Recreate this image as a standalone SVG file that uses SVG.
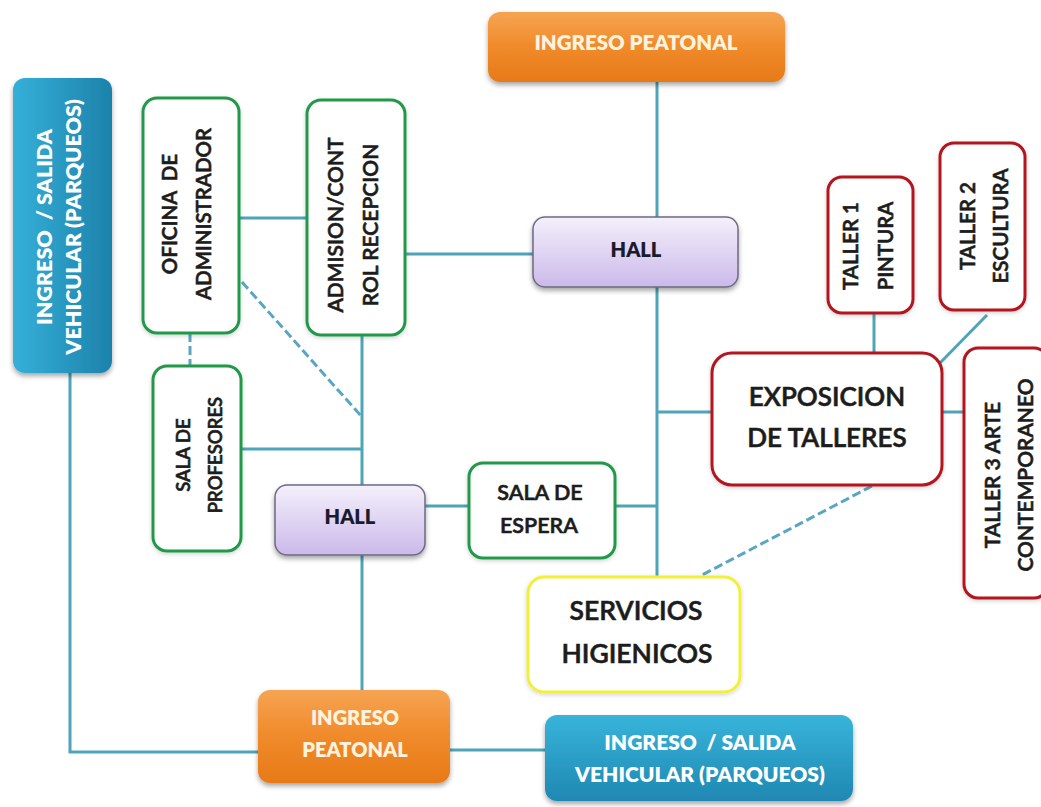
<svg xmlns="http://www.w3.org/2000/svg" width="1041" height="807" viewBox="0 0 1041 807">
  <defs>
    <linearGradient id="gOrange" x1="0" y1="0" x2="0" y2="1">
      <stop offset="0" stop-color="#f6a452"/>
      <stop offset="0.5" stop-color="#f08a2a"/>
      <stop offset="1" stop-color="#e77a18"/>
    </linearGradient>
    <linearGradient id="gBlueV" x1="0" y1="0" x2="1" y2="0">
      <stop offset="0" stop-color="#35b0d8"/>
      <stop offset="1" stop-color="#1d82ab"/>
    </linearGradient>
    <linearGradient id="gBlueH" x1="0" y1="0" x2="0" y2="1">
      <stop offset="0" stop-color="#38b4da"/>
      <stop offset="1" stop-color="#1f88b2"/>
    </linearGradient>
    <linearGradient id="gHall" x1="0" y1="0" x2="0" y2="1">
      <stop offset="0" stop-color="#f4f0fb"/>
      <stop offset="1" stop-color="#cbb9ea"/>
    </linearGradient>
    <filter id="shadow" x="-10%" y="-10%" width="120%" height="130%">
      <feDropShadow dx="0" dy="3" stdDeviation="2.5" flood-color="#000" flood-opacity="0.35"/>
    </filter>
    <filter id="soft" x="-10%" y="-10%" width="120%" height="120%">
      <feDropShadow dx="0" dy="1.5" stdDeviation="2" flood-color="#000" flood-opacity="0.18"/>
    </filter>
  </defs>
  <style>
    .link { stroke: #4ea4b8; stroke-width: 3; fill: none; }
    .dash { stroke: #5aa6c2; stroke-width: 3; fill: none; stroke-dasharray: 9 4; }
    .green { fill: #fff; stroke: #22994a; stroke-width: 3; filter: url(#soft); }
    .red { fill: #fff; stroke: #b3121f; stroke-width: 3; filter: url(#soft); }
    .yellow { fill: #fff; stroke: #f2ef3a; stroke-width: 3; filter: url(#soft); }
    .hall { fill: url(#gHall); stroke: #6e6a82; stroke-width: 1.5; filter: url(#shadow); }
    .orange { fill: url(#gOrange); filter: url(#shadow); }
    .blueV { fill: url(#gBlueV); filter: url(#shadow); }
    .blueH { fill: url(#gBlueH); filter: url(#shadow); }
    text { font-family: Lato, "Liberation Sans", sans-serif; text-anchor: middle; }
    .dark { fill: #1c1c1c; stroke: #1c1c1c; stroke-width: 0.6; font-weight: 600; }
    .light { fill: #ffffff; font-weight: 800; }
    .cream { fill: #fdf3df; font-weight: 800; }
    .hallTxt { fill: #1b1b2e; font-weight: 800; font-size: 20px; }
  </style>

  <!-- connectors -->
  <g id="connectors">
    <line class="link" x1="657" y1="82" x2="657" y2="217"/>
    <line class="link" x1="657" y1="287" x2="657" y2="577"/>
    <line class="link" x1="239" y1="218" x2="307" y2="218"/>
    <line class="link" x1="405" y1="254" x2="533" y2="254"/>
    <line class="link" x1="362" y1="335" x2="362" y2="485"/>
    <line class="link" x1="241" y1="449" x2="362" y2="449"/>
    <line class="link" x1="362" y1="555" x2="362" y2="690"/>
    <line class="link" x1="425" y1="506" x2="469" y2="506"/>
    <line class="link" x1="615" y1="506" x2="657" y2="506"/>
    <line class="link" x1="657" y1="412" x2="712" y2="412"/>
    <line class="link" x1="942" y1="412" x2="964" y2="412"/>
    <line class="link" x1="874" y1="313" x2="874" y2="353"/>
    <line class="link" x1="987" y1="315" x2="940" y2="363"/>
    <polyline class="link" points="70,373 70,752 258,752"/>
    <line class="link" x1="450" y1="750" x2="545" y2="750"/>
    <line class="dash" x1="190" y1="333" x2="190" y2="366"/>
    <line class="dash" x1="242" y1="282" x2="362" y2="417"/>
    <line class="dash" x1="872" y1="486" x2="702" y2="575"/>
  </g>

  <!-- vehicle access, left -->
  <g id="vehiculo-izq">
    <rect class="blueV" x="13" y="78" width="99" height="295" rx="12"/>
    <g transform="translate(62,227) rotate(-90)">
      <text class="light" font-size="21.5" y="-10" xml:space="preserve">INGRESO  / SALIDA</text>
      <text class="light" font-size="21.5" y="19">VEHICULAR (PARQUEOS)</text>
    </g>
  </g>

  <g id="oficina">
    <rect class="green" x="143" y="98" width="96" height="235" rx="14"/>
    <g transform="translate(191,214) rotate(-90)">
      <text class="dark" font-size="20.5" y="-14" xml:space="preserve">OFICINA  DE</text>
      <text class="dark" font-size="20.5" y="20">ADMINISTRADOR</text>
    </g>
  </g>

  <g id="admision">
    <rect class="green" x="307" y="100" width="98" height="235" rx="14"/>
    <g transform="translate(356,225) rotate(-90)">
      <text class="dark" font-size="21" y="-13">ADMISION/CONT</text>
      <text class="dark" font-size="21" y="22">ROL RECEPCION</text>
    </g>
  </g>

  <g id="ingreso-peatonal-norte">
    <rect class="orange" x="488" y="12" width="297" height="70" rx="12"/>
    <text class="cream" font-size="20.5" x="636" y="50">INGRESO PEATONAL</text>
  </g>

  <g id="hall-principal">
    <rect class="hall" x="533" y="217" width="205" height="70" rx="12"/>
    <text class="hallTxt" x="636" y="257">HALL</text>
  </g>

  <g id="taller-1">
    <rect class="red" x="828" y="177" width="85" height="136" rx="14"/>
    <g transform="translate(870,246) rotate(-90)">
      <text class="dark" font-size="20.5" y="-12">TALLER 1</text>
      <text class="dark" font-size="20.5" y="23">PINTURA</text>
    </g>
  </g>

  <g id="taller-2">
    <rect class="red" x="940" y="143" width="85" height="167" rx="14"/>
    <g transform="translate(982,226) rotate(-90)">
      <text class="dark" font-size="20.5" y="-7">TALLER 2</text>
      <text class="dark" font-size="20.5" y="26">ESCULTURA</text>
    </g>
  </g>

  <g id="exposicion">
    <rect class="red" x="712" y="353" width="230" height="132" rx="20"/>
    <text class="dark" font-size="26" x="827" y="406">EXPOSICION</text>
    <text class="dark" font-size="26" x="827" y="447">DE TALLERES</text>
  </g>

  <g id="taller-3">
    <rect class="red" x="964" y="348" width="84" height="250" rx="14"/>
    <g transform="translate(1009,475) rotate(-90)">
      <text class="dark" font-size="21" y="-9">TALLER 3 ARTE</text>
      <text class="dark" font-size="21" y="24">CONTEMPORANEO</text>
    </g>
  </g>

  <g id="sala-profesores">
    <rect class="green" x="153" y="366" width="88" height="185" rx="14"/>
    <g transform="translate(197,455) rotate(-90)">
      <text class="dark" font-size="18.5" y="-7">SALA DE</text>
      <text class="dark" font-size="18.5" y="25">PROFESORES</text>
    </g>
  </g>

  <g id="hall-secundario">
    <rect class="hall" x="275" y="485" width="150" height="70" rx="12"/>
    <text class="hallTxt" x="350" y="524">HALL</text>
  </g>

  <g id="sala-espera">
    <rect class="green" x="469" y="463" width="146" height="95" rx="14"/>
    <text class="dark" font-size="21.5" x="540" y="500">SALA DE</text>
    <text class="dark" font-size="21.5" x="539" y="533">ESPERA</text>
  </g>

  <g id="servicios">
    <rect class="yellow" x="528" y="577" width="212" height="115" rx="16"/>
    <text class="dark" font-size="26.5" x="636" y="620">SERVICIOS</text>
    <text class="dark" font-size="26.5" x="637" y="663">HIGIENICOS</text>
  </g>

  <g id="ingreso-peatonal-sur">
    <rect class="orange" x="258" y="690" width="192" height="93" rx="12"/>
    <text class="cream" font-size="20" x="355" y="725">INGRESO</text>
    <text class="cream" font-size="20" x="355" y="757">PEATONAL</text>
  </g>

  <g id="vehiculo-sur">
    <rect class="blueH" x="545" y="715" width="308" height="86" rx="12"/>
    <text class="light" font-size="21" x="700" y="750" xml:space="preserve">INGRESO  / SALIDA</text>
    <text class="light" font-size="21" x="700" y="782">VEHICULAR (PARQUEOS)</text>
  </g>
</svg>
